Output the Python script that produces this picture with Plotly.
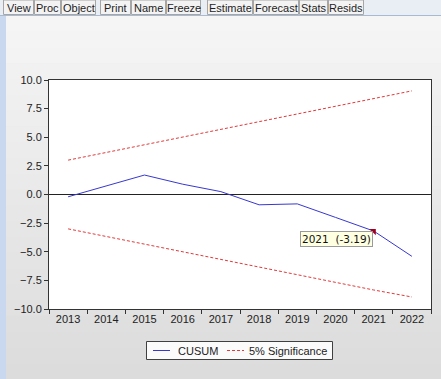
import plotly.graph_objects as go

years = ["2013", "2014", "2015", "2016", "2017", "2018", "2019", "2020", "2021", "2022"]
cusum = [-0.2, 0.75, 1.7, 0.9, 0.25, -0.9, -0.82, -2.0, -3.19, -5.4]
upper5 = [3.0, 3.67, 4.34, 5.0, 5.67, 6.34, 7.0, 7.67, 8.34, 9.05]
lower5 = [-3.0, -3.67, -4.34, -5.0, -5.67, -6.34, -7.0, -7.67, -8.34, -8.95]
ytick_vals = [-10.0, -7.5, -5.0, -2.5, 0.0, 2.5, 5.0, 7.5, 10.0]
toolbar = [("View", 3, 34), ("Proc", 34, 61), ("Object", 61, 96),
           ("Print", 100, 131), ("Name", 131, 166), ("Freeze", 166, 201),
           ("Estimate", 207, 253), ("Forecast", 253, 299), ("Stats", 299, 328),
           ("Resids", 328, 364)]

W, H = 441, 379
L, R, T, B = 49, 431, 80, 309


def px(x):
    return (x - L) / (R - L)


def py(y):
    return (B - y) / (B - T)


BLUE = "#3838d0"
RED = "#e03a3a"
TIP = 8  # index of the highlighted point (2021)

fig = go.Figure()
fig.add_trace(go.Scatter(x=years, y=cusum, mode="lines", name="CUSUM",
                         line=dict(color=BLUE, width=1), showlegend=False,
                         hoverinfo="skip"))
fig.add_trace(go.Scatter(x=years, y=upper5, mode="lines", name="5% Significance",
                         line=dict(color=RED, width=1, dash="3px,2px"),
                         showlegend=False, hoverinfo="skip"))
fig.add_trace(go.Scatter(x=years, y=lower5, mode="lines", name="5% Significance",
                         line=dict(color=RED, width=1, dash="3px,2px"),
                         showlegend=False, hoverinfo="skip"))
fig.add_trace(go.Scatter(x=[years[TIP]], y=[cusum[TIP]], mode="markers",
                         marker=dict(symbol="triangle-ne", size=7, color="#a00020"),
                         showlegend=False, hoverinfo="skip"))

shapes = []
# background gradient
n = 24
for i in range(n):
    y0 = i * H / n
    y1 = (i + 1) * H / n + 0.5
    t = i / (n - 1)
    c = int(round(0xf6 - t * (0xf6 - 0xdc)))
    col = "#%02x%02x%02x" % (c, c, c)
    shapes.append(dict(type="rect", xref="paper", yref="paper",
                       x0=px(0), x1=px(W), y0=py(y0), y1=py(y1),
                       fillcolor=col, line=dict(width=0), layer="below"))
# left blue strip
shapes.append(dict(type="rect", xref="paper", yref="paper",
                   x0=px(0), x1=px(6), y0=py(16), y1=py(H),
                   fillcolor="#c9d8ee", line=dict(width=0), layer="below"))
# toolbar band
shapes.append(dict(type="rect", xref="paper", yref="paper",
                   x0=px(0), x1=px(W), y0=py(0), y1=py(15),
                   fillcolor="#e9eef5", line=dict(width=0), layer="below"))
shapes.append(dict(type="line", xref="paper", yref="paper",
                   x0=px(0), x1=px(W), y0=py(15.5), y1=py(15.5),
                   line=dict(color="#a9b9d2", width=1), layer="below"))
for name, a, b in toolbar:
    shapes.append(dict(type="rect", xref="paper", yref="paper",
                       x0=px(a + 0.5), x1=px(b - 0.5), y0=py(0), y1=py(14.5),
                       fillcolor="#f3f3f3", line=dict(color="#a6a6a6", width=1),
                       layer="below"))
# plot area white
shapes.append(dict(type="rect", xref="paper", yref="paper",
                   x0=0, x1=1, y0=0, y1=1, fillcolor="white",
                   line=dict(width=0), layer="below"))
# legend box
shapes.append(dict(type="rect", xref="paper", yref="paper",
                   x0=px(146.5), x1=px(332.5), y0=py(341.5), y1=py(359.5),
                   fillcolor="#fbfbfb", line=dict(color="#404040", width=1)))
shapes.append(dict(type="line", xref="paper", yref="paper",
                   x0=px(153), x1=px(170), y0=py(350.5), y1=py(350.5),
                   line=dict(color=BLUE, width=1)))
shapes.append(dict(type="line", xref="paper", yref="paper",
                   x0=px(227), x1=px(244), y0=py(350.5), y1=py(350.5),
                   line=dict(color=RED, width=1, dash="3px,2px")))

annotations = []
for name, a, b in toolbar:
    annotations.append(dict(xref="paper", yref="paper", x=px((a + b) / 2), y=py(7.5),
                            text=name, showarrow=False, xanchor="center",
                            yanchor="middle",
                            font=dict(family="Liberation Sans", size=11, color="#1e1e1e")))
annotations.append(dict(xref="paper", yref="paper", x=px(176), y=py(350.5),
                        text="CUSUM", showarrow=False, xanchor="left", yanchor="middle",
                        font=dict(family="Liberation Sans", size=11, color="#222")))
annotations.append(dict(xref="paper", yref="paper", x=px(247), y=py(350.5),
                        text="5% Significance", showarrow=False, xanchor="left",
                        yanchor="middle",
                        font=dict(family="Liberation Sans", size=11, color="#222")))
# tooltip
annotations.append(dict(x=TIP, y=cusum[TIP], xref="x", yref="y",
                        text="2021&nbsp;&nbsp;(-3.19)", showarrow=False,
                        xanchor="right", yanchor="top", xshift=-1,
                        bgcolor="#ffffe1", bordercolor="#9a9a9a", borderwidth=1,
                        borderpad=1,
                        font=dict(family="DejaVu Sans", size=10.5, color="#111")))

fig.update_layout(
    width=W, height=H,
    margin=dict(l=L, r=W - R, t=T, b=H - B, pad=0),
    paper_bgcolor="#e8e8e8",
    plot_bgcolor="rgba(0,0,0,0)",
    shapes=shapes,
    annotations=annotations,
    showlegend=False,
    xaxis=dict(type="category", range=[-0.5, 9.5], tickson="boundaries",
               ticks="outside", ticklen=4, tickcolor="#333", showgrid=False,
               showline=True, linecolor="#333", linewidth=1, mirror=True,
               tickfont=dict(family="Liberation Sans", size=11, color="#222"),
               fixedrange=True),
    yaxis=dict(range=[-10, 10], tickvals=ytick_vals, tickformat=".1f",
               ticks="outside", ticklen=4, tickcolor="#333", showgrid=False,
               showline=True, linecolor="#333", linewidth=1, mirror=True,
               zeroline=True, zerolinecolor="#222", zerolinewidth=1,
               tickfont=dict(family="Liberation Sans", size=11, color="#222"),
               fixedrange=True),
)

fig.write_html("out.html",
               config={"displayModeBar": False, "staticPlot": True},
               post_script="document.body.style.margin='0';document.body.style.overflow='hidden';")
